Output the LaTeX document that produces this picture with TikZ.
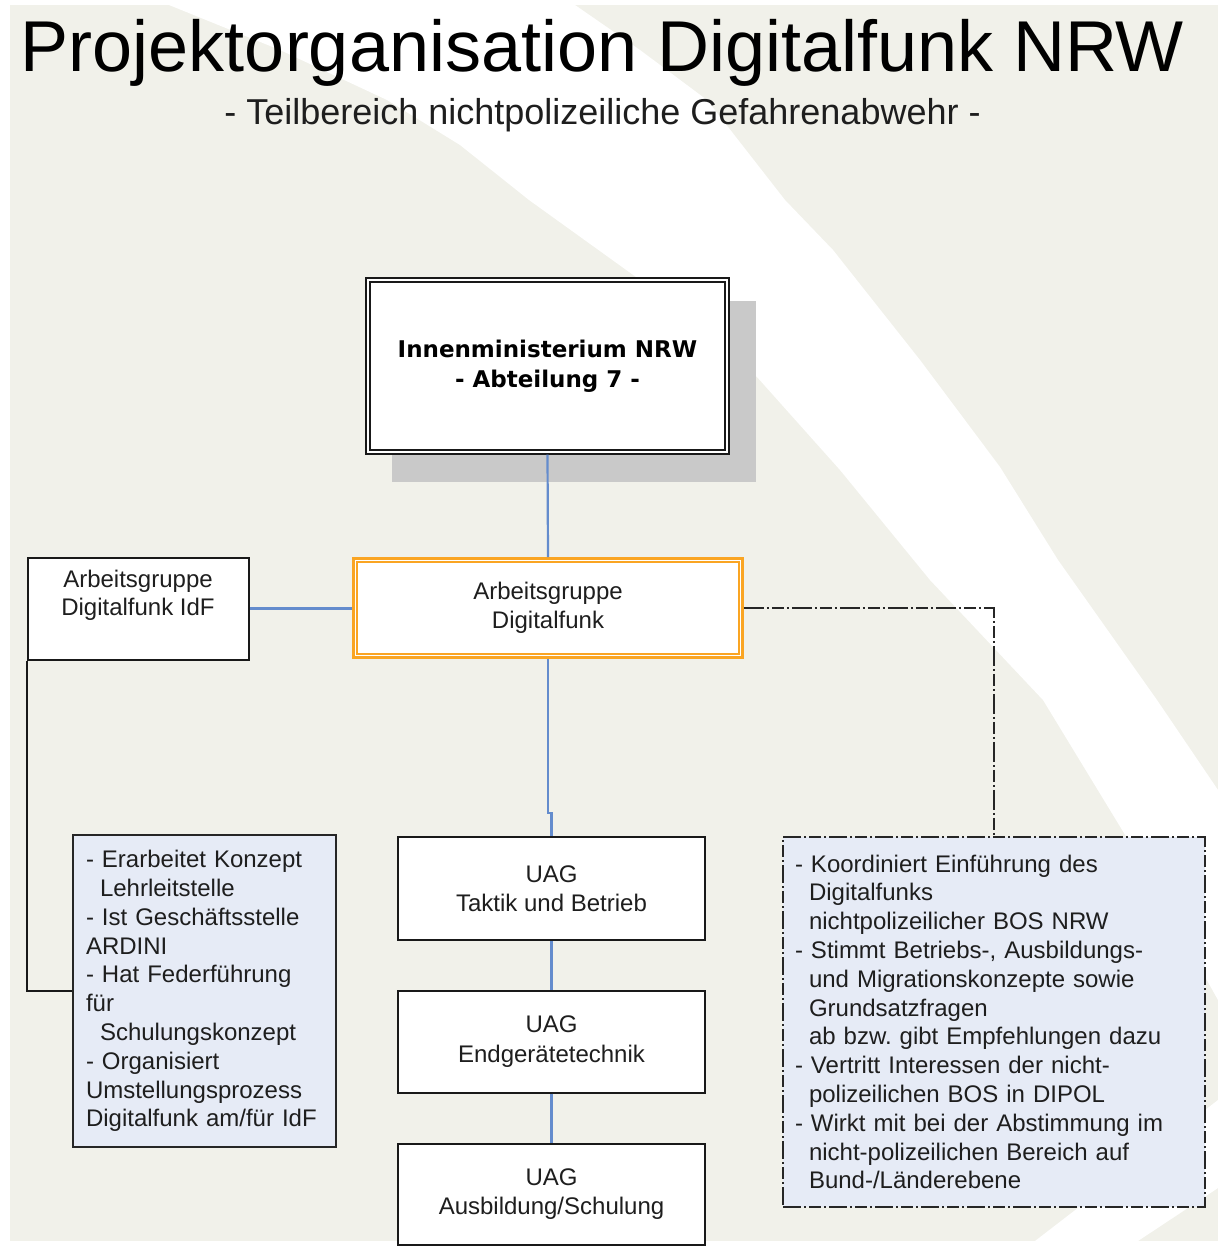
\documentclass[tikz,border=0pt]{standalone}
\usepackage{fontspec}
\setmainfont{Liberation Sans}
\newfontfamily\dejavu{DejaVu Sans}
\definecolor{bg}{RGB}{241,241,234}
\definecolor{lineblue}{RGB}{100,140,205}
\definecolor{agorange}{RGB}{250,165,35}
\definecolor{infofill}{RGB}{230,235,246}
\definecolor{shadowgray}{RGB}{201,201,201}
\definecolor{txtcol}{RGB}{30,30,30}
\frenchspacing
\begin{document}
\begin{tikzpicture}[x=1pt,y=-1pt,
  txt/.style={font=\fontsize{24}{28.8}\selectfont, text=txtcol},
  plainbox/.style={draw=black!90, line width=2pt, fill=white, inner sep=0pt},
  infobox/.style={draw=black!85, fill=infofill, align=left, txt, inner ysep=0pt},
  blueline/.style={draw=lineblue, line width=2.2pt},
  blackline/.style={draw=black!90, line width=2pt},
  dashdotline/.style={draw=black!85, line width=2pt, dash pattern=on 20pt off 3pt on 2pt off 3pt on 12pt off 3pt on 2pt off 3pt}
]
\useasboundingbox (0,0) rectangle (1218,1246);
% background
\fill[bg] (10,5) rectangle (1218,1241);
\fill[white] (169,5) -- (280,50) -- (387,100) -- (460,145) -- (529,200) -- (636,277) -- (757,377)
  -- (840,470) -- (930,580) -- (1043,700) -- (1127,838) -- (1218,1000)
  -- (1218,790) -- (1157,700) -- (1058,560) -- (1000,467) -- (920,360) -- (833,250)
  -- (785,200) -- (707,100) -- (640,50) -- (575,5) -- cycle;
\fill[white] (1035,1241) -- (1218,1100) -- (1218,1188) -- (1138,1241) -- cycle;

% titles
\node[font=\fontsize{72}{80}\selectfont, anchor=base, inner sep=0pt] (title) at (602.5,72) {Projektorganisation Digitalfunk NRW};
\node[font=\fontsize{36}{40}\selectfont, anchor=base, inner sep=0pt, text=txtcol] (sub) at (602.5,125) {- Teilbereich nichtpolizeiliche Gefahrenabwehr -};

% top box with shadow
\fill[shadowgray] (392,301) rectangle (756,482);
\node[plainbox, line width=1.3pt, minimum width=363pt, minimum height=176pt,
      font=\dejavu\bfseries\fontsize{23}{30}\selectfont, align=center] (im) at (547.5,366) {Innenministerium NRW\\- Abteilung 7 -};
\draw[line width=2.6pt, black!90] ([xshift=4.5pt,yshift=-4.5pt]im.north west) rectangle ([xshift=-4.5pt,yshift=4.5pt]im.south east);

% Arbeitsgruppe Digitalfunk
\node[draw=agorange, line width=2.6pt, fill=white, minimum width=389pt, minimum height=99pt,
      txt, align=center, inner sep=0pt] (ag) at (548,608) {Arbeitsgruppe\\Digitalfunk};
\draw[agorange, line width=1.9pt] ([xshift=5pt,yshift=-5pt]ag.north west) rectangle ([xshift=-5pt,yshift=5pt]ag.south east);

% Arbeitsgruppe Digitalfunk IdF
\node[plainbox, minimum width=221.5pt, minimum height=102pt] (idf) at (138.25,608.5) {};
\node[txt, align=center, anchor=north, inner sep=0pt] (idft) at (138,569.5) {Arbeitsgruppe\\Digitalfunk IdF};

% left info box
\node[infobox, line width=1.8pt, minimum width=263pt, minimum height=312pt, text width=237pt, inner xsep=13pt] (lb) at (204.5,991)
{- Erarbeitet Konzept\\
\hspace*{14pt}Lehrleitstelle\\
- Ist Geschäftsstelle\\
ARDINI\\
- Hat Federführung\\
für\\
\hspace*{14pt}Schulungskonzept\\
- Organisiert\\
Umstellungsprozess\\
Digitalfunk am/für IdF};

% right info box
\node[infobox, line width=1.6pt, dash pattern=on 18pt off 3pt on 2pt off 3pt on 12pt off 3pt on 2pt off 3pt,
      minimum width=422pt, minimum height=370pt, text width=398pt, inner xsep=12pt] (rb) at (994,1022)
{- Koordiniert Einführung des\\
\hspace*{14pt}Digitalfunks\\
\hspace*{14pt}nichtpolizeilicher BOS NRW\\
- Stimmt Betriebs-, Ausbildungs-\\
\hspace*{14pt}und Migrationskonzepte sowie\\
\hspace*{14pt}Grundsatzfragen\\
\hspace*{14pt}ab bzw. gibt Empfehlungen dazu\\
- Vertritt Interessen der nicht-\\
\hspace*{14pt}polizeilichen BOS in DIPOL\\
- Wirkt mit bei der Abstimmung im\\
\hspace*{14pt}nicht-polizeilichen Bereich auf\\
\hspace*{14pt}Bund-/Länderebene};

% UAG boxes
\node[plainbox, txt, font=\fontsize{24}{29.5}\selectfont, align=center, minimum width=307pt, minimum height=103pt] (uag1) at (551.5,888.5) {UAG\\Taktik und Betrieb};
\node[plainbox, txt, font=\fontsize{24}{29.5}\selectfont, align=center, minimum width=307pt, minimum height=102pt] (uag2) at (551.5,1041.5) {UAG\\Endgerätetechnik};
\node[plainbox, txt, font=\fontsize{24}{29.5}\selectfont, align=center, minimum width=307pt, minimum height=100.5pt] (uag3) at (551.5,1194.25) {UAG\\Ausbildung/Schulung};

% connectors
\coordinate (jog) at (548,813);
\draw[blueline] (im.south) -- (ag.north);
\draw[blueline] (idf.east) -- (idf.east -| ag.west);
\draw[blueline] (ag.south) -- (jog) -| (uag1.north);
\draw[blueline] (uag1.south) -- (uag2.north);
\draw[blueline] (uag2.south) -- (uag3.north);
\draw[blackline] (idf.south west) |- (lb.west);
\draw[dashdotline] (ag.east) -| (rb.north);
\end{tikzpicture}
\end{document}
